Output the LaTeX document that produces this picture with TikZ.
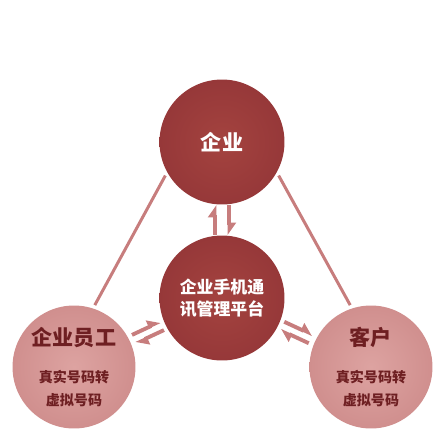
\documentclass[tikz,border=0pt]{standalone}
\usepackage{fontspec}
\setmainfont{Noto Sans CJK SC}
\usepackage{xcolor}
\usepackage{tikz}
\usetikzlibrary{arrows.meta,calc,positioning}
\definecolor{deepred}{HTML}{963839}
\definecolor{deepredhi}{HTML}{A4433F}
\definecolor{rosy}{HTML}{D08F8E}
\definecolor{rosyhi}{HTML}{DDA3A1}
\definecolor{wine}{HTML}{6E1F22}
\definecolor{linkred}{HTML}{C77D7D}
\newcommand{\subfont}{\fontsize{8}{11.3}\selectfont}
\begin{document}
\begin{tikzpicture}[x=0.02cm,y=-0.02cm,
  bigball/.style={circle,minimum size=2.5cm,inner sep=0pt,align=center,inner color=deepredhi,outer color=deepred,text=white,font=\bfseries},
  smallball/.style={circle,minimum size=2.46cm,inner sep=0pt,align=center,inner color=rosyhi,outer color=rosy,text=wine,font=\bfseries},
  link/.style={linkred,line width=1.7pt,shorten <=2pt,shorten >=2pt},
  harp/.style={linkred,line width=2.2pt,-{Triangle[harpoon,length=6pt,width=8pt]}}]
\useasboundingbox (0,0) rectangle (444,430);
\node[bigball,font=\fontsize{12}{14}\selectfont\bfseries] (ent) at (222,142) {企业};
\node[bigball,font=\fontsize{9.6}{12.5}\selectfont\bfseries] (plat) at (222,298) {企业手机通\\讯管理平台};
\node[smallball,font=\fontsize{12}{14}\selectfont\bfseries] (staff) at (74,367) {企业员工\\[7pt]\subfont 真实号码转\\[-1pt]\subfont 虚拟号码};
\node[smallball,font=\fontsize{12}{14}\selectfont\bfseries] (client) at (371,367) {客户\\[7pt]\subfont 真实号码转\\[-1pt]\subfont 虚拟号码};
\draw[link] (staff.72) -- (ent.209);
\draw[link] (client.108) -- (ent.331);
\draw[harp] ([xshift=-3.9pt]plat.north) -- ([xshift=-3.9pt]ent.south);
\draw[harp] ([xshift=3.9pt]ent.south) -- ([xshift=3.9pt]plat.north);
\draw[harp] ($(staff)!0.405!(plat)!2.6pt!90:(plat)$) -- ($(staff)!0.595!(plat)!2.6pt!90:(plat)$);
\draw[harp] ($(staff)!0.595!(plat)!2.6pt!-90:(plat)$) -- ($(staff)!0.405!(plat)!2.6pt!-90:(plat)$);
\draw[harp] ($(client)!0.405!(plat)!2.6pt!90:(plat)$) -- ($(client)!0.595!(plat)!2.6pt!90:(plat)$);
\draw[harp] ($(client)!0.595!(plat)!2.6pt!-90:(plat)$) -- ($(client)!0.405!(plat)!2.6pt!-90:(plat)$);
\end{tikzpicture}
\end{document}
